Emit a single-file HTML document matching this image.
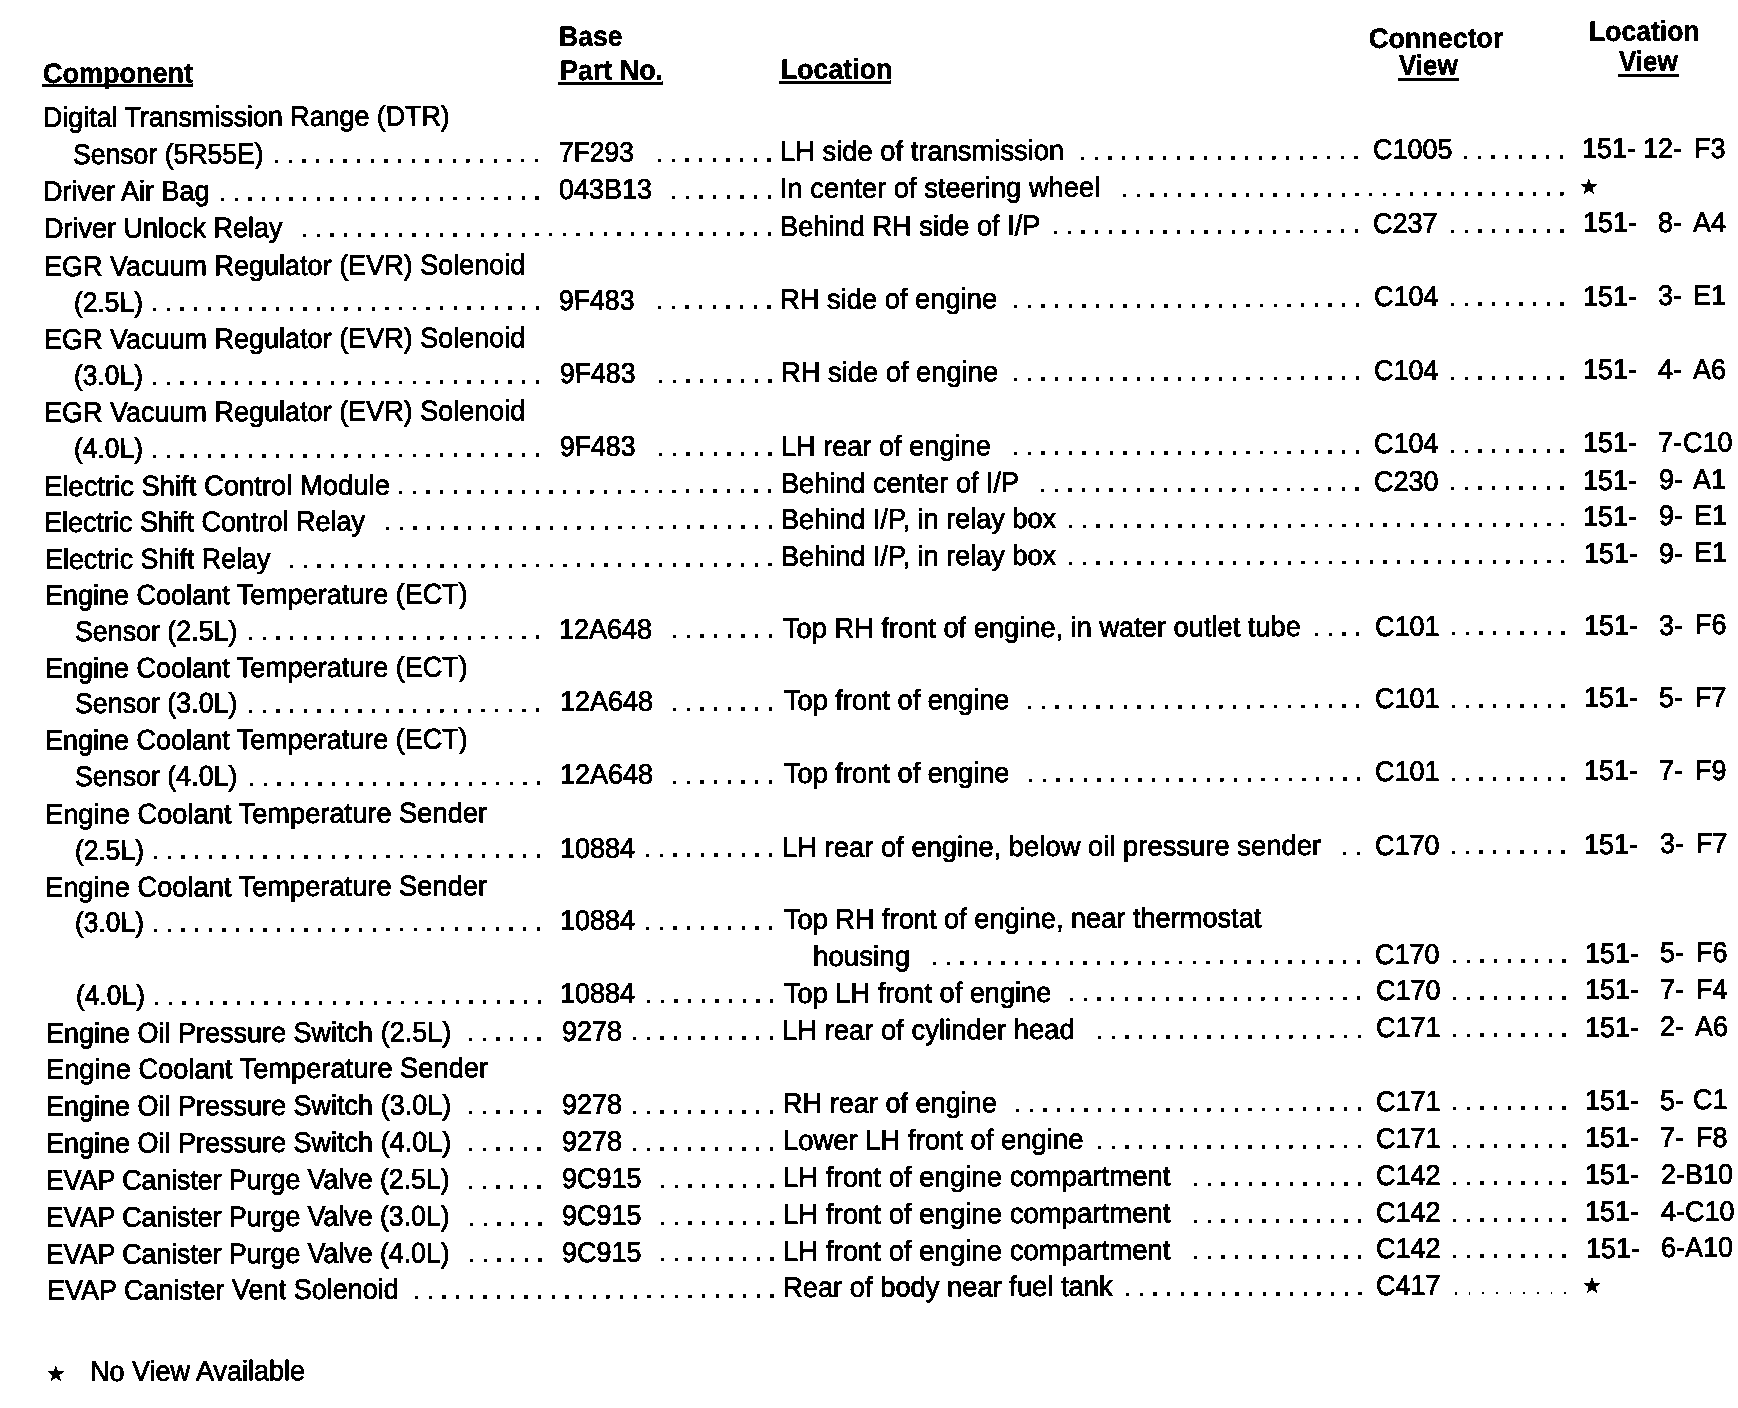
<!DOCTYPE html>
<html><head><meta charset="utf-8"><title>Component Location Index</title>
<style>
html,body{margin:0;padding:0;background:#fff;}
body{width:1738px;height:1408px;overflow:hidden;position:relative;}
#p{will-change:transform;filter:url(#thr);position:absolute;left:0;top:0;width:1738px;height:1408px;}
.t{position:absolute;white-space:pre;font-family:"Liberation Sans",sans-serif;font-size:27.0px;line-height:normal;color:#000;transform-origin:0 24.435px;transform:matrix(1,-0.0039,0.00294,1.05,0,0);-webkit-text-stroke:0.75px #000;}
.b{font-weight:bold;-webkit-text-stroke:0.4px #000;}
.d{letter-spacing:6.163px;}
.f{-webkit-text-stroke:0;opacity:.6;}
.u{position:absolute;display:block;background:#000;transform-origin:0 0;transform:matrix(1,-0.0039,0,1,0,0);}
.s{position:absolute;left:0;top:0;fill:#000;stroke:#000;stroke-width:0.6;}
</style></head><body>
<svg width="0" height="0" style="position:absolute"><filter id="thr" x="0" y="0" width="100%" height="100%" color-interpolation-filters="sRGB"><feComponentTransfer><feFuncA type="discrete" tableValues="0 1"/></feComponentTransfer></filter></svg>
<div id="p">
<span class="t" style="left:43.27px;top:103.41px;transform:matrix(0.9929,-0.00387,0.00294,1.0500,0,0);">Digital Transmission Range (DTR)</span>
<span class="t" style="left:73.28px;top:140.00px;transform:matrix(0.9849,-0.00384,0.00294,1.0500,0,0);">Sensor (5R55E)</span>
<span class="t" style="left:559.08px;top:138.10px;transform:matrix(0.9793,-0.00382,0.00294,1.0500,0,0);">7F293</span>
<span class="t" style="left:780.04px;top:137.24px;transform:matrix(1.0130,-0.00395,0.00294,1.0500,0,0);">LH side of transmission</span>
<span class="t" style="left:1373.16px;top:134.93px;transform:matrix(1.0000,-0.00390,0.00294,1.0500,0,0);">C1005</span>
<span class="t" style="left:1582.46px;top:134.11px;transform:matrix(1.0000,-0.00390,0.00294,1.0500,0,0);">151-</span>
<span class="t" style="left:1642.63px;top:133.88px;transform:matrix(1.0000,-0.00390,0.00294,1.0500,0,0);">12-</span>
<span class="t" style="left:1693.66px;top:133.68px;transform:matrix(1.0000,-0.00390,0.00294,1.0500,0,0);">F3</span>
<span class="t" style="left:43.47px;top:177.31px;transform:matrix(1.0000,-0.00390,0.00294,1.0500,0,0);">Driver Air Bag</span>
<span class="t" style="left:559.17px;top:175.30px;transform:matrix(1.0000,-0.00390,0.00294,1.0500,0,0);">043B13</span>
<span class="t" style="left:780.14px;top:174.44px;transform:matrix(1.0112,-0.00394,0.00294,1.0500,0,0);">In center of steering wheel</span>
<span class="t" style="left:43.57px;top:214.41px;transform:matrix(1.0000,-0.00390,0.00294,1.0500,0,0);">Driver Unlock Relay</span>
<span class="t" style="left:780.25px;top:211.54px;transform:matrix(1.0093,-0.00394,0.00294,1.0500,0,0);">Behind RH side of I/P</span>
<span class="t" style="left:1373.37px;top:209.23px;transform:matrix(1.0000,-0.00390,0.00294,1.0500,0,0);">C237</span>
<span class="t" style="left:1582.67px;top:208.41px;transform:matrix(1.0000,-0.00390,0.00294,1.0500,0,0);">151-</span>
<span class="t" style="left:1657.85px;top:208.12px;transform:matrix(1.0000,-0.00390,0.00294,1.0500,0,0);">8-</span>
<span class="t" style="left:1692.67px;top:207.98px;transform:matrix(1.0000,-0.00390,0.00294,1.0500,0,0);">A4</span>
<span class="t" style="left:43.67px;top:251.71px;transform:matrix(1.0000,-0.00390,0.00294,1.0500,0,0);">EGR Vacuum Regulator (EVR) Solenoid</span>
<span class="t" style="left:73.70px;top:287.50px;transform:matrix(0.9790,-0.00382,0.00294,1.0500,0,0);">(2.5L)</span>
<span class="t" style="left:559.49px;top:285.60px;transform:matrix(0.9860,-0.00385,0.00294,1.0500,0,0);">9F483</span>
<span class="t" style="left:780.45px;top:284.74px;transform:matrix(1.0118,-0.00395,0.00294,1.0500,0,0);">RH side of engine</span>
<span class="t" style="left:1373.57px;top:282.43px;transform:matrix(1.0000,-0.00390,0.00294,1.0500,0,0);">C104</span>
<span class="t" style="left:1582.87px;top:281.61px;transform:matrix(1.0000,-0.00390,0.00294,1.0500,0,0);">151-</span>
<span class="t" style="left:1658.06px;top:281.32px;transform:matrix(1.0000,-0.00390,0.00294,1.0500,0,0);">3-</span>
<span class="t" style="left:1693.37px;top:281.18px;transform:matrix(1.0000,-0.00390,0.00294,1.0500,0,0);">E1</span>
<span class="t" style="left:43.88px;top:325.11px;transform:matrix(1.0000,-0.00390,0.00294,1.0500,0,0);">EGR Vacuum Regulator (EVR) Solenoid</span>
<span class="t" style="left:73.90px;top:360.90px;transform:matrix(0.9790,-0.00382,0.00294,1.0500,0,0);">(3.0L)</span>
<span class="t" style="left:559.69px;top:359.00px;transform:matrix(0.9860,-0.00385,0.00294,1.0500,0,0);">9F483</span>
<span class="t" style="left:780.66px;top:358.14px;transform:matrix(1.0118,-0.00395,0.00294,1.0500,0,0);">RH side of engine</span>
<span class="t" style="left:1373.78px;top:355.83px;transform:matrix(1.0000,-0.00390,0.00294,1.0500,0,0);">C104</span>
<span class="t" style="left:1583.08px;top:355.01px;transform:matrix(1.0000,-0.00390,0.00294,1.0500,0,0);">151-</span>
<span class="t" style="left:1658.26px;top:354.72px;transform:matrix(1.0000,-0.00390,0.00294,1.0500,0,0);">4-</span>
<span class="t" style="left:1693.08px;top:354.58px;transform:matrix(1.0000,-0.00390,0.00294,1.0500,0,0);">A6</span>
<span class="t" style="left:44.08px;top:398.11px;transform:matrix(1.0000,-0.00390,0.00294,1.0500,0,0);">EGR Vacuum Regulator (EVR) Solenoid</span>
<span class="t" style="left:74.11px;top:434.30px;transform:matrix(0.9790,-0.00382,0.00294,1.0500,0,0);">(4.0L)</span>
<span class="t" style="left:559.90px;top:432.40px;transform:matrix(0.9860,-0.00385,0.00294,1.0500,0,0);">9F483</span>
<span class="t" style="left:780.87px;top:431.54px;transform:matrix(1.0053,-0.00392,0.00294,1.0500,0,0);">LH rear of engine</span>
<span class="t" style="left:1373.99px;top:429.23px;transform:matrix(1.0000,-0.00390,0.00294,1.0500,0,0);">C104</span>
<span class="t" style="left:1583.29px;top:428.41px;transform:matrix(1.0000,-0.00390,0.00294,1.0500,0,0);">151-</span>
<span class="t" style="left:1658.47px;top:428.12px;transform:matrix(1.0000,-0.00390,0.00294,1.0500,0,0);">7-</span>
<span class="t" style="left:1682.89px;top:428.02px;transform:matrix(1.0000,-0.00390,0.00294,1.0500,0,0);">C10</span>
<span class="t" style="left:44.26px;top:471.71px;transform:matrix(1.0156,-0.00396,0.00294,1.0500,0,0);">Electric Shift Control Module</span>
<span class="t" style="left:780.98px;top:468.84px;transform:matrix(1.0045,-0.00392,0.00294,1.0500,0,0);">Behind center of I/P</span>
<span class="t" style="left:1374.09px;top:466.53px;transform:matrix(1.0000,-0.00390,0.00294,1.0500,0,0);">C230</span>
<span class="t" style="left:1583.39px;top:465.71px;transform:matrix(1.0000,-0.00390,0.00294,1.0500,0,0);">151-</span>
<span class="t" style="left:1658.57px;top:465.42px;transform:matrix(1.0000,-0.00390,0.00294,1.0500,0,0);">9-</span>
<span class="t" style="left:1693.39px;top:465.28px;transform:matrix(1.0000,-0.00390,0.00294,1.0500,0,0);">A1</span>
<span class="t" style="left:44.39px;top:507.61px;transform:matrix(1.0000,-0.00390,0.00294,1.0500,0,0);">Electric Shift Control Relay</span>
<span class="t" style="left:781.08px;top:504.74px;transform:matrix(1.0034,-0.00391,0.00294,1.0500,0,0);">Behind I/P, in relay box</span>
<span class="t" style="left:1583.49px;top:501.61px;transform:matrix(1.0000,-0.00390,0.00294,1.0500,0,0);">151-</span>
<span class="t" style="left:1658.67px;top:501.32px;transform:matrix(1.0000,-0.00390,0.00294,1.0500,0,0);">9-</span>
<span class="t" style="left:1693.99px;top:501.18px;transform:matrix(1.0000,-0.00390,0.00294,1.0500,0,0);">E1</span>
<span class="t" style="left:44.50px;top:544.81px;transform:matrix(0.9952,-0.00388,0.00294,1.0500,0,0);">Electric Shift Relay</span>
<span class="t" style="left:781.19px;top:541.94px;transform:matrix(1.0034,-0.00391,0.00294,1.0500,0,0);">Behind I/P, in relay box</span>
<span class="t" style="left:1583.59px;top:538.81px;transform:matrix(1.0000,-0.00390,0.00294,1.0500,0,0);">151-</span>
<span class="t" style="left:1658.78px;top:538.52px;transform:matrix(1.0000,-0.00390,0.00294,1.0500,0,0);">9-</span>
<span class="t" style="left:1694.09px;top:538.38px;transform:matrix(1.0000,-0.00390,0.00294,1.0500,0,0);">E1</span>
<span class="t" style="left:44.59px;top:580.71px;transform:matrix(1.0000,-0.00390,0.00294,1.0500,0,0);">Engine Coolant Temperature (ECT)</span>
<span class="t" style="left:74.60px;top:616.80px;transform:matrix(0.9926,-0.00387,0.00294,1.0500,0,0);">Sensor (2.5L)</span>
<span class="t" style="left:559.40px;top:614.90px;transform:matrix(1.0000,-0.00390,0.00294,1.0500,0,0);">12A648</span>
<span class="t" style="left:783.40px;top:614.03px;transform:matrix(1.0088,-0.00393,0.00294,1.0500,0,0);">Top RH front of engine, in water outlet tube</span>
<span class="t" style="left:1374.50px;top:611.73px;transform:matrix(1.0000,-0.00390,0.00294,1.0500,0,0);">C101</span>
<span class="t" style="left:1583.80px;top:610.91px;transform:matrix(1.0000,-0.00390,0.00294,1.0500,0,0);">151-</span>
<span class="t" style="left:1658.98px;top:610.62px;transform:matrix(1.0000,-0.00390,0.00294,1.0500,0,0);">3-</span>
<span class="t" style="left:1695.00px;top:610.48px;transform:matrix(1.0000,-0.00390,0.00294,1.0500,0,0);">F6</span>
<span class="t" style="left:44.80px;top:653.51px;transform:matrix(1.0000,-0.00390,0.00294,1.0500,0,0);">Engine Coolant Temperature (ECT)</span>
<span class="t" style="left:74.81px;top:689.20px;transform:matrix(0.9926,-0.00387,0.00294,1.0500,0,0);">Sensor (3.0L)</span>
<span class="t" style="left:559.60px;top:687.30px;transform:matrix(1.0000,-0.00390,0.00294,1.0500,0,0);">12A648</span>
<span class="t" style="left:783.60px;top:686.43px;transform:matrix(1.0083,-0.00393,0.00294,1.0500,0,0);">Top front of engine</span>
<span class="t" style="left:1374.70px;top:684.13px;transform:matrix(1.0000,-0.00390,0.00294,1.0500,0,0);">C101</span>
<span class="t" style="left:1584.00px;top:683.31px;transform:matrix(1.0000,-0.00390,0.00294,1.0500,0,0);">151-</span>
<span class="t" style="left:1659.18px;top:683.02px;transform:matrix(1.0000,-0.00390,0.00294,1.0500,0,0);">5-</span>
<span class="t" style="left:1695.20px;top:682.88px;transform:matrix(1.0000,-0.00390,0.00294,1.0500,0,0);">F7</span>
<span class="t" style="left:45.00px;top:726.41px;transform:matrix(1.0000,-0.00390,0.00294,1.0500,0,0);">Engine Coolant Temperature (ECT)</span>
<span class="t" style="left:75.01px;top:762.20px;transform:matrix(0.9926,-0.00387,0.00294,1.0500,0,0);">Sensor (4.0L)</span>
<span class="t" style="left:559.80px;top:760.30px;transform:matrix(1.0000,-0.00390,0.00294,1.0500,0,0);">12A648</span>
<span class="t" style="left:783.80px;top:759.43px;transform:matrix(1.0083,-0.00393,0.00294,1.0500,0,0);">Top front of engine</span>
<span class="t" style="left:1374.90px;top:757.13px;transform:matrix(1.0000,-0.00390,0.00294,1.0500,0,0);">C101</span>
<span class="t" style="left:1584.20px;top:756.31px;transform:matrix(1.0000,-0.00390,0.00294,1.0500,0,0);">151-</span>
<span class="t" style="left:1659.39px;top:756.02px;transform:matrix(1.0000,-0.00390,0.00294,1.0500,0,0);">7-</span>
<span class="t" style="left:1695.40px;top:755.88px;transform:matrix(1.0000,-0.00390,0.00294,1.0500,0,0);">F9</span>
<span class="t" style="left:45.19px;top:799.81px;transform:matrix(1.0097,-0.00394,0.00294,1.0500,0,0);">Engine Coolant Temperature Sender</span>
<span class="t" style="left:75.23px;top:835.60px;transform:matrix(0.9790,-0.00382,0.00294,1.0500,0,0);">(2.5L)</span>
<span class="t" style="left:560.01px;top:833.70px;transform:matrix(1.0000,-0.00390,0.00294,1.0500,0,0);">10884</span>
<span class="t" style="left:781.98px;top:832.84px;transform:matrix(1.0145,-0.00396,0.00294,1.0500,0,0);">LH rear of engine, below oil pressure sender</span>
<span class="t" style="left:1375.11px;top:830.53px;transform:matrix(1.0000,-0.00390,0.00294,1.0500,0,0);">C170</span>
<span class="t" style="left:1584.41px;top:829.71px;transform:matrix(1.0000,-0.00390,0.00294,1.0500,0,0);">151-</span>
<span class="t" style="left:1659.59px;top:829.42px;transform:matrix(1.0000,-0.00390,0.00294,1.0500,0,0);">3-</span>
<span class="t" style="left:1695.61px;top:829.28px;transform:matrix(1.0000,-0.00390,0.00294,1.0500,0,0);">F7</span>
<span class="t" style="left:45.39px;top:872.61px;transform:matrix(1.0097,-0.00394,0.00294,1.0500,0,0);">Engine Coolant Temperature Sender</span>
<span class="t" style="left:75.43px;top:908.00px;transform:matrix(0.9790,-0.00382,0.00294,1.0500,0,0);">(3.0L)</span>
<span class="t" style="left:560.21px;top:906.10px;transform:matrix(1.0000,-0.00390,0.00294,1.0500,0,0);">10884</span>
<span class="t" style="left:784.21px;top:905.23px;transform:matrix(1.0064,-0.00393,0.00294,1.0500,0,0);">Top RH front of engine, near thermostat</span>
<span class="t" style="left:813.19px;top:941.72px;transform:matrix(1.0263,-0.00400,0.00294,1.0500,0,0);">housing</span>
<span class="t" style="left:1375.41px;top:939.53px;transform:matrix(1.0000,-0.00390,0.00294,1.0500,0,0);">C170</span>
<span class="t" style="left:1584.71px;top:938.71px;transform:matrix(1.0000,-0.00390,0.00294,1.0500,0,0);">151-</span>
<span class="t" style="left:1659.90px;top:938.42px;transform:matrix(1.0000,-0.00390,0.00294,1.0500,0,0);">5-</span>
<span class="t" style="left:1695.91px;top:938.28px;transform:matrix(1.0000,-0.00390,0.00294,1.0500,0,0);">F6</span>
<span class="t" style="left:75.64px;top:981.30px;transform:matrix(0.9790,-0.00382,0.00294,1.0500,0,0);">(4.0L)</span>
<span class="t" style="left:560.42px;top:979.40px;transform:matrix(1.0000,-0.00390,0.00294,1.0500,0,0);">10884</span>
<span class="t" style="left:784.42px;top:978.53px;transform:matrix(1.0062,-0.00392,0.00294,1.0500,0,0);">Top LH front of engine</span>
<span class="t" style="left:1375.52px;top:976.23px;transform:matrix(1.0000,-0.00390,0.00294,1.0500,0,0);">C170</span>
<span class="t" style="left:1584.82px;top:975.41px;transform:matrix(1.0000,-0.00390,0.00294,1.0500,0,0);">151-</span>
<span class="t" style="left:1660.00px;top:975.12px;transform:matrix(1.0000,-0.00390,0.00294,1.0500,0,0);">7-</span>
<span class="t" style="left:1696.02px;top:974.98px;transform:matrix(1.0000,-0.00390,0.00294,1.0500,0,0);">F4</span>
<span class="t" style="left:45.82px;top:1018.61px;transform:matrix(1.0000,-0.00390,0.00294,1.0500,0,0);">Engine Oil Pressure Switch (2.5L)</span>
<span class="t" style="left:561.52px;top:1016.60px;transform:matrix(1.0000,-0.00390,0.00294,1.0500,0,0);">9278</span>
<span class="t" style="left:782.49px;top:1015.74px;transform:matrix(1.0160,-0.00396,0.00294,1.0500,0,0);">LH rear of cylinder head</span>
<span class="t" style="left:1375.62px;top:1013.43px;transform:matrix(1.0000,-0.00390,0.00294,1.0500,0,0);">C171</span>
<span class="t" style="left:1584.92px;top:1012.61px;transform:matrix(1.0000,-0.00390,0.00294,1.0500,0,0);">151-</span>
<span class="t" style="left:1660.10px;top:1012.32px;transform:matrix(1.0000,-0.00390,0.00294,1.0500,0,0);">2-</span>
<span class="t" style="left:1694.92px;top:1012.18px;transform:matrix(1.0000,-0.00390,0.00294,1.0500,0,0);">A6</span>
<span class="t" style="left:45.90px;top:1055.21px;transform:matrix(1.0097,-0.00394,0.00294,1.0500,0,0);">Engine Coolant Temperature Sender</span>
<span class="t" style="left:46.03px;top:1091.91px;transform:matrix(1.0000,-0.00390,0.00294,1.0500,0,0);">Engine Oil Pressure Switch (3.0L)</span>
<span class="t" style="left:561.73px;top:1089.90px;transform:matrix(1.0000,-0.00390,0.00294,1.0500,0,0);">9278</span>
<span class="t" style="left:782.72px;top:1089.04px;transform:matrix(1.0038,-0.00391,0.00294,1.0500,0,0);">RH rear of engine</span>
<span class="t" style="left:1375.83px;top:1086.73px;transform:matrix(1.0000,-0.00390,0.00294,1.0500,0,0);">C171</span>
<span class="t" style="left:1585.13px;top:1085.91px;transform:matrix(1.0000,-0.00390,0.00294,1.0500,0,0);">151-</span>
<span class="t" style="left:1660.31px;top:1085.62px;transform:matrix(1.0000,-0.00390,0.00294,1.0500,0,0);">5-</span>
<span class="t" style="left:1693.13px;top:1085.49px;transform:matrix(1.0000,-0.00390,0.00294,1.0500,0,0);">C1</span>
<span class="t" style="left:46.13px;top:1129.01px;transform:matrix(1.0000,-0.00390,0.00294,1.0500,0,0);">Engine Oil Pressure Switch (4.0L)</span>
<span class="t" style="left:561.83px;top:1127.00px;transform:matrix(1.0000,-0.00390,0.00294,1.0500,0,0);">9278</span>
<span class="t" style="left:782.80px;top:1126.14px;transform:matrix(1.0162,-0.00396,0.00294,1.0500,0,0);">Lower LH front of engine</span>
<span class="t" style="left:1375.93px;top:1123.83px;transform:matrix(1.0000,-0.00390,0.00294,1.0500,0,0);">C171</span>
<span class="t" style="left:1585.23px;top:1123.01px;transform:matrix(1.0000,-0.00390,0.00294,1.0500,0,0);">151-</span>
<span class="t" style="left:1660.41px;top:1122.72px;transform:matrix(1.0000,-0.00390,0.00294,1.0500,0,0);">7-</span>
<span class="t" style="left:1696.43px;top:1122.58px;transform:matrix(1.0000,-0.00390,0.00294,1.0500,0,0);">F8</span>
<span class="t" style="left:46.26px;top:1166.21px;transform:matrix(0.9889,-0.00386,0.00294,1.0500,0,0);">EVAP Canister Purge Valve (2.5L)</span>
<span class="t" style="left:561.93px;top:1164.20px;transform:matrix(1.0000,-0.00390,0.00294,1.0500,0,0);">9C915</span>
<span class="t" style="left:782.89px;top:1163.34px;transform:matrix(1.0204,-0.00398,0.00294,1.0500,0,0);">LH front of engine compartment</span>
<span class="t" style="left:1376.03px;top:1161.03px;transform:matrix(1.0000,-0.00390,0.00294,1.0500,0,0);">C142</span>
<span class="t" style="left:1585.33px;top:1160.21px;transform:matrix(1.0000,-0.00390,0.00294,1.0500,0,0);">151-</span>
<span class="t" style="left:1660.52px;top:1159.92px;transform:matrix(1.0000,-0.00390,0.00294,1.0500,0,0);">2-</span>
<span class="t" style="left:1684.63px;top:1159.82px;transform:matrix(1.0000,-0.00390,0.00294,1.0500,0,0);">B10</span>
<span class="t" style="left:46.36px;top:1203.31px;transform:matrix(0.9889,-0.00386,0.00294,1.0500,0,0);">EVAP Canister Purge Valve (3.0L)</span>
<span class="t" style="left:562.04px;top:1201.30px;transform:matrix(1.0000,-0.00390,0.00294,1.0500,0,0);">9C915</span>
<span class="t" style="left:783.00px;top:1200.44px;transform:matrix(1.0204,-0.00398,0.00294,1.0500,0,0);">LH front of engine compartment</span>
<span class="t" style="left:1376.14px;top:1198.13px;transform:matrix(1.0000,-0.00390,0.00294,1.0500,0,0);">C142</span>
<span class="t" style="left:1585.44px;top:1197.31px;transform:matrix(1.0000,-0.00390,0.00294,1.0500,0,0);">151-</span>
<span class="t" style="left:1660.62px;top:1197.02px;transform:matrix(1.0000,-0.00390,0.00294,1.0500,0,0);">4-</span>
<span class="t" style="left:1685.04px;top:1196.92px;transform:matrix(1.0000,-0.00390,0.00294,1.0500,0,0);">C10</span>
<span class="t" style="left:46.46px;top:1239.61px;transform:matrix(0.9889,-0.00386,0.00294,1.0500,0,0);">EVAP Canister Purge Valve (4.0L)</span>
<span class="t" style="left:562.14px;top:1237.60px;transform:matrix(1.0000,-0.00390,0.00294,1.0500,0,0);">9C915</span>
<span class="t" style="left:783.10px;top:1236.74px;transform:matrix(1.0204,-0.00398,0.00294,1.0500,0,0);">LH front of engine compartment</span>
<span class="t" style="left:1376.24px;top:1234.43px;transform:matrix(1.0000,-0.00390,0.00294,1.0500,0,0);">C142</span>
<span class="t" style="left:1585.54px;top:1233.61px;transform:matrix(1.0000,-0.00390,0.00294,1.0500,0,0);">151-</span>
<span class="t" style="left:1660.72px;top:1233.32px;transform:matrix(1.0000,-0.00390,0.00294,1.0500,0,0);">6-</span>
<span class="t" style="left:1685.24px;top:1233.22px;transform:matrix(1.0000,-0.00390,0.00294,1.0500,0,0);">A10</span>
<span class="t" style="left:46.54px;top:1276.21px;transform:matrix(1.0000,-0.00390,0.00294,1.0500,0,0);">EVAP Canister Vent Solenoid</span>
<span class="t" style="left:783.22px;top:1273.34px;transform:matrix(1.0120,-0.00395,0.00294,1.0500,0,0);">Rear of body near fuel tank</span>
<span class="t" style="left:1376.34px;top:1271.03px;transform:matrix(1.0000,-0.00390,0.00294,1.0500,0,0);">C417</span>
<span class="t b" style="left:43.00px;top:58.87px;transform:matrix(1.0001,-0.00390,0.00294,1.0500,0,0);">Component</span>
<span class="t b" style="left:559.23px;top:22.17px;transform:matrix(0.9822,-0.00383,0.00294,1.0500,0,0);">Base</span>
<span class="t b" style="left:559.81px;top:55.87px;transform:matrix(0.9959,-0.00388,0.00294,1.0500,0,0);">Part No.</span>
<span class="t b" style="left:780.62px;top:55.27px;transform:matrix(0.9891,-0.00386,0.00294,1.0500,0,0);">Location</span>
<span class="t b" style="left:1368.92px;top:23.57px;transform:matrix(0.9963,-0.00389,0.00294,1.0500,0,0);">Connector</span>
<span class="t b" style="left:1399.02px;top:51.17px;transform:matrix(0.9607,-0.00375,0.00294,1.0500,0,0);">View</span>
<span class="t b" style="left:1589.04px;top:17.37px;transform:matrix(0.9827,-0.00383,0.00294,1.0500,0,0);">Location</span>
<span class="t b" style="left:1618.82px;top:47.47px;transform:matrix(0.9607,-0.00375,0.00294,1.0500,0,0);">View</span>
<span class="t" style="left:90.10px;top:1357.47px;transform:matrix(0.9999,-0.00390,0.00294,1.0500,0,0);">No View Available</span>
<span class="t d" style="left:273.29px;top:139.22px">....................</span>
<span class="t d" style="left:655.88px;top:137.72px">.........</span>
<span class="t d" style="left:1079.46px;top:136.07px">.....................</span>
<span class="t d" style="left:1462.05px;top:134.58px">........</span>
<span class="t d" style="left:218.73px;top:176.63px">........................</span>
<span class="t d" style="left:669.65px;top:174.87px">........</span>
<span class="t d" style="left:1120.56px;top:173.11px">.................................</span>
<span class="t d" style="left:300.82px;top:213.41px">...................................</span>
<span class="t d" style="left:1052.34px;top:210.48px">.......................</span>
<span class="t d" style="left:1448.60px;top:208.93px">.........</span>
<span class="t d" style="left:150.72px;top:287.20px">.............................</span>
<span class="t d" style="left:656.29px;top:285.22px">.........</span>
<span class="t d" style="left:1011.55px;top:283.84px">..........................</span>
<span class="t d" style="left:1448.80px;top:282.13px">.........</span>
<span class="t d" style="left:150.93px;top:360.60px">.............................</span>
<span class="t d" style="left:656.50px;top:358.62px">.........</span>
<span class="t d" style="left:1011.76px;top:357.24px">..........................</span>
<span class="t d" style="left:1449.01px;top:355.53px">.........</span>
<span class="t d" style="left:151.13px;top:434.00px">.............................</span>
<span class="t d" style="left:656.70px;top:432.02px">.........</span>
<span class="t d" style="left:1011.97px;top:430.64px">..........................</span>
<span class="t d" style="left:1449.21px;top:428.93px">.........</span>
<span class="t d" style="left:397.19px;top:470.34px">............................</span>
<span class="t d" style="left:1039.40px;top:467.83px">........................</span>
<span class="t d" style="left:1449.32px;top:466.23px">.........</span>
<span class="t d" style="left:383.63px;top:506.29px">.............................</span>
<span class="t d" style="left:1066.83px;top:503.62px">.....................................</span>
<span class="t d" style="left:288.08px;top:543.86px">....................................</span>
<span class="t d" style="left:1066.93px;top:540.82px">.....................................</span>
<span class="t d" style="left:247.29px;top:616.12px">......................</span>
<span class="t d" style="left:670.88px;top:614.47px">........</span>
<span class="t d" style="left:1313.08px;top:611.97px">....</span>
<span class="t d" style="left:1449.72px;top:611.43px">.........</span>
<span class="t d" style="left:247.49px;top:688.52px">......................</span>
<span class="t d" style="left:671.08px;top:686.87px">........</span>
<span class="t d" style="left:1026.34px;top:685.48px">.........................</span>
<span class="t d" style="left:1449.93px;top:683.83px">.........</span>
<span class="t d" style="left:247.70px;top:761.52px">......................</span>
<span class="t d" style="left:671.28px;top:759.87px">........</span>
<span class="t d" style="left:1026.55px;top:758.48px">.........................</span>
<span class="t d" style="left:1450.13px;top:756.83px">.........</span>
<span class="t d" style="left:152.26px;top:835.30px">.............................</span>
<span class="t d" style="left:644.16px;top:833.38px">..........</span>
<span class="t d" style="left:1341.02px;top:830.66px">..</span>
<span class="t d" style="left:1450.34px;top:830.23px">.........</span>
<span class="t d" style="left:152.46px;top:907.70px">.............................</span>
<span class="t d" style="left:644.36px;top:905.78px">..........</span>
<span class="t d" style="left:931.41px;top:941.26px">................................</span>
<span class="t d" style="left:1450.64px;top:939.23px">.........</span>
<span class="t d" style="left:152.66px;top:981.00px">.............................</span>
<span class="t d" style="left:644.57px;top:979.08px">..........</span>
<span class="t d" style="left:1068.15px;top:977.42px">......................</span>
<span class="t d" style="left:1450.74px;top:975.93px">.........</span>
<span class="t d" style="left:467.04px;top:1016.97px">......</span>
<span class="t d" style="left:631.01px;top:1016.33px">...........</span>
<span class="t d" style="left:1095.59px;top:1014.52px">....................</span>
<span class="t d" style="left:1450.85px;top:1013.13px">.........</span>
<span class="t d" style="left:467.25px;top:1090.27px">......</span>
<span class="t d" style="left:631.21px;top:1089.63px">...........</span>
<span class="t d" style="left:1013.81px;top:1088.14px">..........................</span>
<span class="t d" style="left:1451.05px;top:1086.43px">.........</span>
<span class="t d" style="left:467.35px;top:1127.37px">......</span>
<span class="t d" style="left:631.32px;top:1126.73px">...........</span>
<span class="t d" style="left:1095.89px;top:1124.92px">....................</span>
<span class="t d" style="left:1451.16px;top:1123.53px">.........</span>
<span class="t d" style="left:467.45px;top:1164.57px">......</span>
<span class="t d" style="left:658.75px;top:1163.82px">.........</span>
<span class="t d" style="left:1191.65px;top:1161.75px">.............</span>
<span class="t d" style="left:1451.26px;top:1160.73px">.........</span>
<span class="t d" style="left:467.56px;top:1201.67px">......</span>
<span class="t d" style="left:658.85px;top:1200.92px">.........</span>
<span class="t d" style="left:1191.75px;top:1198.85px">.............</span>
<span class="t d" style="left:1451.37px;top:1197.83px">.........</span>
<span class="t d" style="left:467.66px;top:1237.97px">......</span>
<span class="t d" style="left:658.96px;top:1237.22px">.........</span>
<span class="t d" style="left:1191.85px;top:1235.15px">.............</span>
<span class="t d" style="left:1451.47px;top:1234.13px">.........</span>
<span class="t d" style="left:413.11px;top:1274.78px">...........................</span>
<span class="t d" style="left:1123.63px;top:1272.01px">..................</span>
<span class="t d f" style="left:1451.57px;top:1270.73px">.........</span>
<i class="u" style="left:42.20px;top:84.30px;width:151.39px;height:3.00px"></i>
<i class="u" style="left:558.21px;top:81.50px;width:104.59px;height:2.60px"></i>
<i class="u" style="left:779.21px;top:81.00px;width:112.29px;height:2.80px"></i>
<i class="u" style="left:1397.92px;top:77.70px;width:61.09px;height:3.00px"></i>
<i class="u" style="left:1617.92px;top:73.90px;width:61.09px;height:2.90px"></i>
<svg class="s" width="1738" height="1408" viewBox="0 0 1738 1408"><polygon points="1588.92,178.88 1590.86,184.42 1596.73,184.52 1592.06,188.09 1593.78,193.70 1588.95,190.37 1584.14,193.74 1585.82,188.11 1581.13,184.58 1587.01,184.44"/><polygon points="1592.00,1277.78 1593.94,1283.32 1599.81,1283.42 1595.14,1286.99 1596.86,1292.60 1592.03,1289.27 1587.22,1292.64 1588.90,1287.01 1584.21,1283.48 1590.08,1283.34"/><polygon points="55.85,1365.93 57.80,1371.47 63.67,1371.57 59.00,1375.14 60.72,1380.75 55.89,1377.42 51.08,1380.79 52.76,1375.16 48.07,1371.63 53.94,1371.49"/></svg>
</div></body></html>
